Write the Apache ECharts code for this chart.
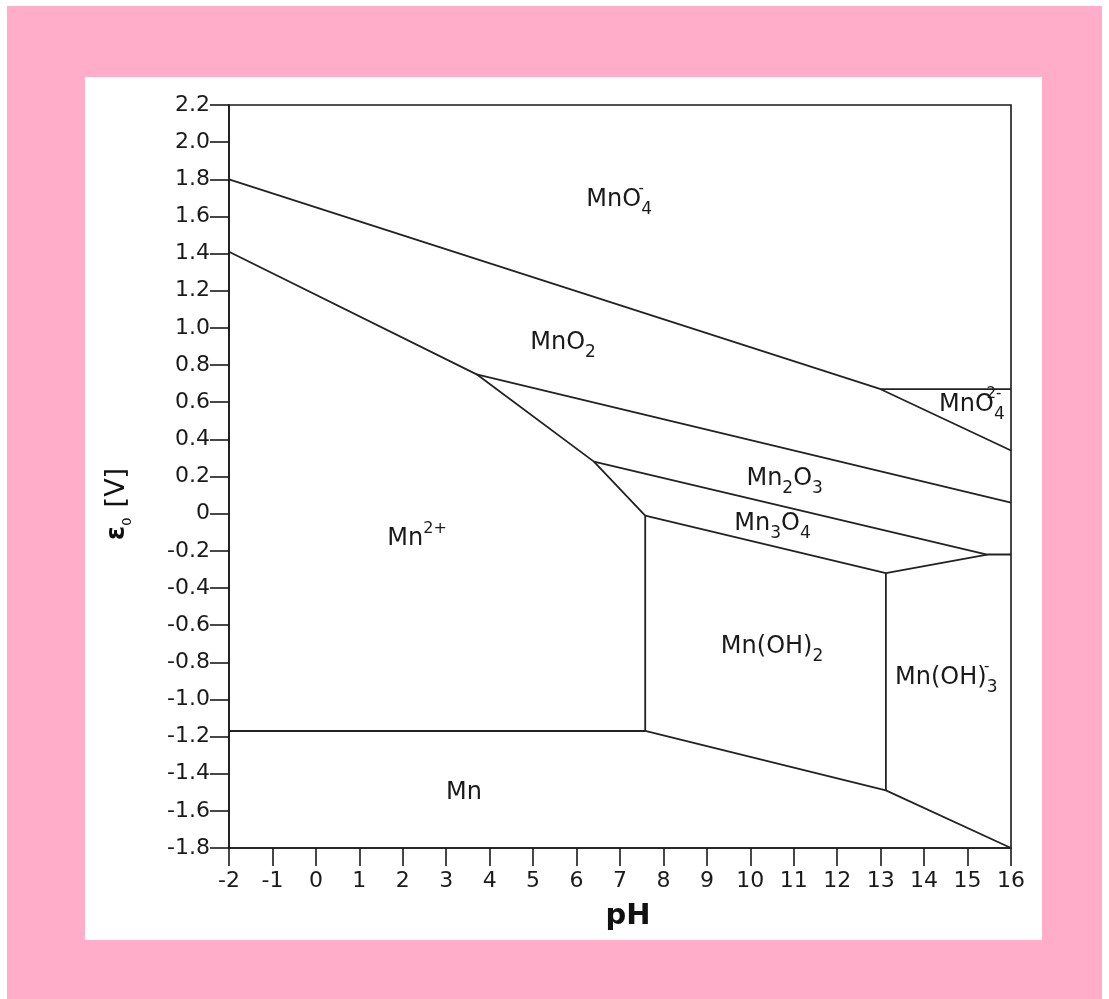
<!DOCTYPE html>
<html>
<head>
<meta charset="utf-8">
<script src="https://cdn.jsdelivr.net/npm/echarts@6/dist/echarts.min.js"></script>
<style>
  html, body { margin: 0; padding: 0; background: #fff; }
  #chart { width: 1109px; height: 999px; }
</style>
</head>
<body>
<div id="chart"></div>
<script>
// Pourbaix diagram of manganese, boundaries as [pH, E0 (V)]
const mno4Lower   = [[-2, 1.80], [13.0, 0.67], [16, 0.34]];
const mno42Upper  = [[13.0, 0.67], [16, 0.67]];
const mn2Boundary = [[-2, 1.41], [3.7, 0.75], [6.4, 0.28], [7.58, -0.01], [7.58, -1.17], [-2, -1.17]];
const mno2Lower   = [[3.7, 0.75], [16, 0.06]];
const mn2o3Lower  = [[6.4, 0.28], [15.45, -0.22], [16, -0.22]];
const mn3o4Lower  = [[7.58, -0.01], [13.12, -0.32], [15.45, -0.22]];
const mnoh3Left   = [[13.12, -0.32], [13.12, -1.49]];
const mnUpper     = [[7.58, -1.17], [13.12, -1.49], [16, -1.80]];

const boundaries = [mno4Lower, mno42Upper, mn2Boundary, mno2Lower, mn2o3Lower, mn3o4Lower, mnoh3Left, mnUpper];

// species labels
const speciesText = [
  '{r|MnO}{z|-}{s|4}',
  '{r|MnO}{s|2}',
  '{r|MnO}{z|2-}{s|4}',
  '{r|Mn}{s|2}{r|O}{s|3}',
  '{r|Mn}{s|3}{r|O}{s|4}',
  '{r|Mn}{p|2+}',
  '{r|Mn(OH)}{s|2}',
  '{r|Mn(OH)}{z|-}{s|3}',
  '{r|Mn}'
];
const speciesPH = [6.98, 5.69, 15.1, 10.79, 10.51, 2.33, 10.5, 14.51, 3.41];
const speciesE  = [1.69, 0.92, 0.585, 0.187, -0.056, -0.135, -0.716, -0.885, -1.504];

const pHMin = -2, pHMax = 16, pHStep = 1;
const eMin = -1.8, eMax = 2.2, eStep = 0.2;

const FONT = 'DejaVu Sans';
const INK = '#1a1a1a';

const chart = echarts.init(document.getElementById('chart'));

const lineSeries = boundaries.map(pts => ({
  type: 'line',
  data: pts,
  symbol: 'none',
  silent: true,
  lineStyle: { color: '#222', width: 1.8 },
  z: 3
}));

const labelSeries = {
  type: 'scatter',
  symbolSize: 0,
  silent: true,
  itemStyle: { opacity: 1 },
  data: speciesText.map((t, i) => ({ name: t, value: [speciesPH[i], speciesE[i]] })),
  label: {
    show: true,
    position: 'inside',
    opacity: 1,
    formatter: p => p.name,
    rich: {
      r: { fontFamily: FONT, fontSize: 24, color: INK, lineHeight: 36, verticalAlign: 'middle' },
      s: { fontFamily: FONT, fontSize: 17, color: INK, lineHeight: 16, verticalAlign: 'bottom' },
      p: { fontFamily: FONT, fontSize: 16, color: INK, lineHeight: 26, verticalAlign: 'top' },
      z: { fontFamily: FONT, fontSize: 15, color: INK, lineHeight: 24, verticalAlign: 'top', width: 0 }
    }
  },
  z: 4
};

const option = {
  backgroundColor: '#fff',
  animation: false,
  graphic: [
    { type: 'rect', z: -10, shape: { x: 7, y: 6, width: 1095, height: 993 }, style: { fill: '#ffadc8' } },
    { type: 'rect', z: -9, shape: { x: 85, y: 77, width: 957, height: 863 }, style: { fill: '#fff' } },
    {
      type: 'text', x: 628, y: 916,
      style: { text: 'pH', font: 'bold 29px "DejaVu Sans"', fill: '#111', align: 'center', verticalAlign: 'middle' }
    },
    {
      type: 'text', x: 117, y: 504, rotation: Math.PI / 2,
      style: {
        text: '{e|ε}{s|0}   {v|[V]}',
        align: 'center', verticalAlign: 'middle',
        rich: {
          e: { font: 'bold 26px "DejaVu Sans"', fill: '#111', lineHeight: 34, verticalAlign: 'middle' },
          s: { font: '13px "DejaVu Sans"', fill: '#111', lineHeight: 13, verticalAlign: 'bottom' },
          v: { font: '27px "DejaVu Sans"', fill: '#111', lineHeight: 34, verticalAlign: 'middle' }
        }
      }
    }
  ],
  grid: {
    left: 229, right: 98, top: 105, bottom: 151,
    show: true, borderColor: INK, borderWidth: 1.6, backgroundColor: 'transparent'
  },
  xAxis: {
    type: 'value', min: pHMin, max: pHMax, interval: pHStep,
    axisLine: { show: true, onZero: false, lineStyle: { color: INK, width: 1.6 } },
    axisTick: { show: true, length: 18, lineStyle: { color: INK, width: 1.6 } },
    axisLabel: { fontFamily: FONT, fontSize: 22, color: INK, margin: 22 },
    splitLine: { show: false }
  },
  yAxis: {
    type: 'value', min: eMin, max: eMax, interval: eStep,
    axisLine: { show: true, onZero: false, lineStyle: { color: INK, width: 1.6 } },
    axisTick: { show: true, length: 19, lineStyle: { color: INK, width: 1.6 } },
    axisLabel: {
      fontFamily: FONT, fontSize: 22, color: INK, margin: 19,
      formatter: v => Math.abs(v) < 1e-9 ? '0' : v.toFixed(1)
    },
    splitLine: { show: false }
  },
  series: [...lineSeries, labelSeries]
};

chart.setOption(option);
</script>
</body>
</html>
